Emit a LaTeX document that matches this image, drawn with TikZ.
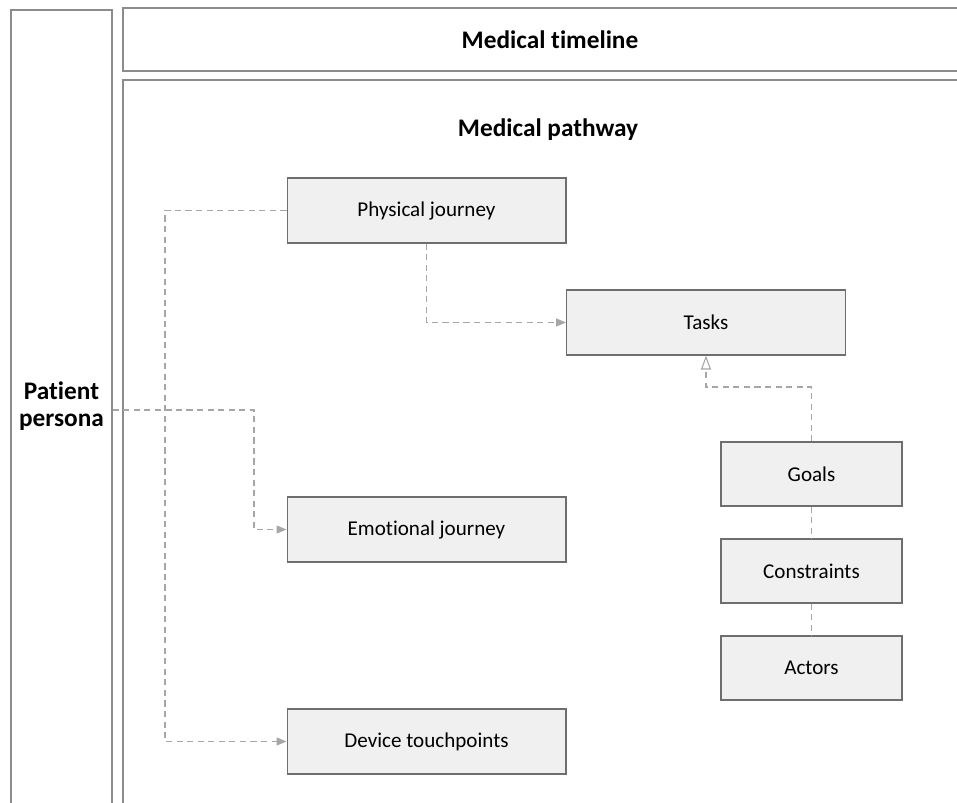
\documentclass[tikz,border=0pt]{standalone}
\usepackage{fontspec}
\setmainfont{Carlito}[Ligatures=NoCommon]
\usetikzlibrary{arrows.meta}
\definecolor{boxfill}{HTML}{F0F0F0}
\definecolor{boxline}{HTML}{6E6E6E}
\definecolor{frameline}{HTML}{8C8C8C}
\definecolor{linkgray}{HTML}{A6A6A6}
\tikzset{
  stage/.style={rectangle, draw=boxline, fill=boxfill, line width=0.6pt,
    minimum width=5.58cm, minimum height=1.3cm, font=\fontsize{12}{14}\selectfont},
  factor/.style={stage, minimum width=3.62cm, minimum height=1.28cm},
  frame/.style={rectangle, draw=frameline, line width=0.8pt},
  heading/.style={font=\bfseries\fontsize{14.4}{15.5}\selectfont, align=center},
  link/.style={draw=linkgray, dash pattern=on 3.5pt off 2.5pt, line width=0.6pt},
  flow/.style={link, -{Triangle[length=2mm,width=1.6mm,fill=linkgray]}},
  generalize/.style={link, -{Triangle[open,length=2.8mm,width=2mm]}},
}
\begin{document}
\begin{tikzpicture}[x=0.02cm, y=-0.02cm]
    \clip (0,0) rectangle (957,803);
    % frames
    \node[frame, minimum width=2.02cm, minimum height=16cm] (persona) at (61.5,410) {};
    \node[heading] (personalabel) at (61.5,406) {Patient\\persona};
    \node[frame, minimum width=17.08cm, minimum height=1.26cm] (timeline) at (550,39.5) {};
    \node[heading] (timelinelabel) at (550,40) {Medical timeline};
    \node[frame, minimum width=17.08cm, minimum height=14.8cm] (pathway) at (550,450) {};
    \node[heading] (pathwaylabel) at (548,130) {Medical pathway};
    % stages
    \node[stage] (physical) at (426.5,210.5) {Physical journey};
    \node[stage] (tasks) at (706,322.5) {Tasks};
    \node[stage] (emotional) at (426.5,529.5) {Emotional journey};
    \node[stage] (device) at (426.5,741.5) {Device touchpoints};
    % factors
    \node[factor] (goals) at (811.5,474) {Goals};
    \node[factor] (constraints) at (811.5,571) {Constraints};
    \node[factor] (actors) at (811.5,668) {Actors};
    % bends
    \coordinate (bus) at (165,210.5);
    \coordinate (split) at (254,410);
    \coordinate (merge) at (811.5,387);
    % connectors
    \draw[flow] (physical.west) -- (bus) |- (device.west);
    \draw[flow] (physical.south) |- (tasks.west);
    \draw[flow] (persona.east) -- (split) |- (emotional.west);
    \draw[generalize] (goals.north) -- (merge) -| (tasks.south);
    \draw[link] (goals) -- (constraints);
    \draw[link] (constraints) -- (actors);
\end{tikzpicture}
\end{document}
